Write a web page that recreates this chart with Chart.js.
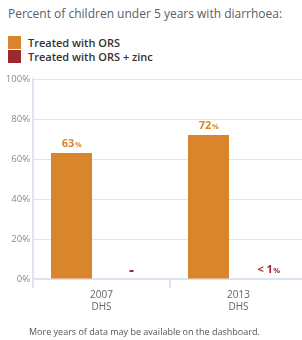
<!DOCTYPE html>
<html><head><meta charset="utf-8">
<script src="https://cdn.jsdelivr.net/npm/chart.js@4/dist/chart.umd.min.js"></script>
<style>
html,body{margin:0;padding:0;width:302px;height:340px;overflow:hidden;background:#fff;font-family:"Open Sans",sans-serif;}
#title{position:absolute;left:8px;top:5px;font-size:12px;color:#56606a;white-space:nowrap;}
#legend{position:absolute;left:8px;top:35px;}
.li{display:flex;align-items:center;height:14px;font-size:11px;color:#333;font-weight:600;white-space:nowrap;}
.sw{width:13px;height:13px;margin-right:7px;}
#foot{position:absolute;left:29px;top:325px;font-size:9px;color:#555;white-space:nowrap;}
#wrap{position:absolute;left:0;top:0;width:310px;height:340px;}
</style></head><body>
<div id="title">Percent of children under 5 years with diarrhoea:</div>
<div id="legend"></div>
<div id="wrap"><canvas id="c"></canvas></div>
<div id="foot">More years of data may be available on the dashboard.</div>
<script>
const years = ["2007", "2013"];
const sources = ["DHS", "DHS"];
const seriesNames = ["Treated with ORS", "Treated with ORS + zinc"];
const seriesColors = ["#d9852b", "#9a2a2f"];
const orsValues = [63, 72];
const zincValues = [null, 0];
const orsLabels = ["63", "72"];
const zincLabels = ["-", "< 1"];
const yTicks = [0, 20, 40, 60, 80, 100];

const leg = document.getElementById('legend');
seriesNames.forEach((n,i)=>{
  const d=document.createElement('div');d.className='li';
  d.innerHTML='<span class="sw" style="background:'+seriesColors[i]+'"></span>'+n;
  leg.appendChild(d);
});

const labelPlugin = {
  id:'vals',
  afterDatasetsDraw(chart){
    const ctx=chart.ctx;
    const yScale=chart.scales.y;
    const sets=[orsLabels, zincLabels];
    chart.data.datasets.forEach((ds,di)=>{
      const meta=chart.getDatasetMeta(di);
      meta.data.forEach((bar,i)=>{
        const txt=sets[di][i];
        if(txt==null) return;
        const v=ds.data[i];
        const top = (v==null)? yScale.getPixelForValue(0) : bar.y;
        const y = top - 9;
        ctx.save();
        ctx.fillStyle=seriesColors[di];
        ctx.textBaseline='middle';
        if(txt==='-'){
          ctx.fillRect(bar.x-2, y, 4, 2);
        } else {
          ctx.font='bold 11px "Open Sans"';
          const w1=ctx.measureText(txt).width;
          ctx.font='bold 7.5px "Open Sans"';
          const w2=ctx.measureText('%').width;
          const x0=bar.x-(w1+w2)/2;
          ctx.textAlign='left';
          ctx.font='bold 11px "Open Sans"';
          ctx.fillText(txt,x0,y);
          ctx.font='bold 7.5px "Open Sans"';
          ctx.fillText('%',x0+w1+0.5,y+1);
        }
        ctx.restore();
      });
    });
  }
};

new Chart(document.getElementById('c'),{
  type:'bar',
  data:{
    labels: years.map((y,i)=>[y, sources[i]]),
    datasets:[
      {label:seriesNames[0],data:orsValues,backgroundColor:seriesColors[0],categoryPercentage:0.876,barPercentage:0.683},
      {label:seriesNames[1],data:zincValues,backgroundColor:seriesColors[1],categoryPercentage:0.876,barPercentage:0.683}
    ]
  },
  options:{
    responsive:true,maintainAspectRatio:false,animation:false,
    layout:{padding:{top:79,right:3,bottom:20,left:0}},
    plugins:{legend:{display:false},tooltip:{enabled:false},title:{display:false}},
    scales:{
      y:{min:0,max:100,
        afterBuildTicks(s){s.ticks=yTicks.map(v=>({value:v}));},
        afterFit(s){s.width=33;},
        ticks:{callback:v=>v+'%',color:'#8a8a8a',font:{family:'"Open Sans"',size:9.5},padding:3},
        grid:{color:'#e4e4e4',lineWidth:1,drawTicks:false},
        border:{color:'#dde3f1',width:2}
      },
      x:{
        afterFit(s){s.height=41;},
        ticks:{color:'#666',font:{family:'"Open Sans"',size:10},padding:1},
        grid:{drawOnChartArea:false,drawTicks:true,tickLength:9,color:'#dde3f1',lineWidth:2},
        border:{color:'#dde3f1',width:2}
      }
    }
  },
  plugins:[labelPlugin]
});
</script>
</body></html>
